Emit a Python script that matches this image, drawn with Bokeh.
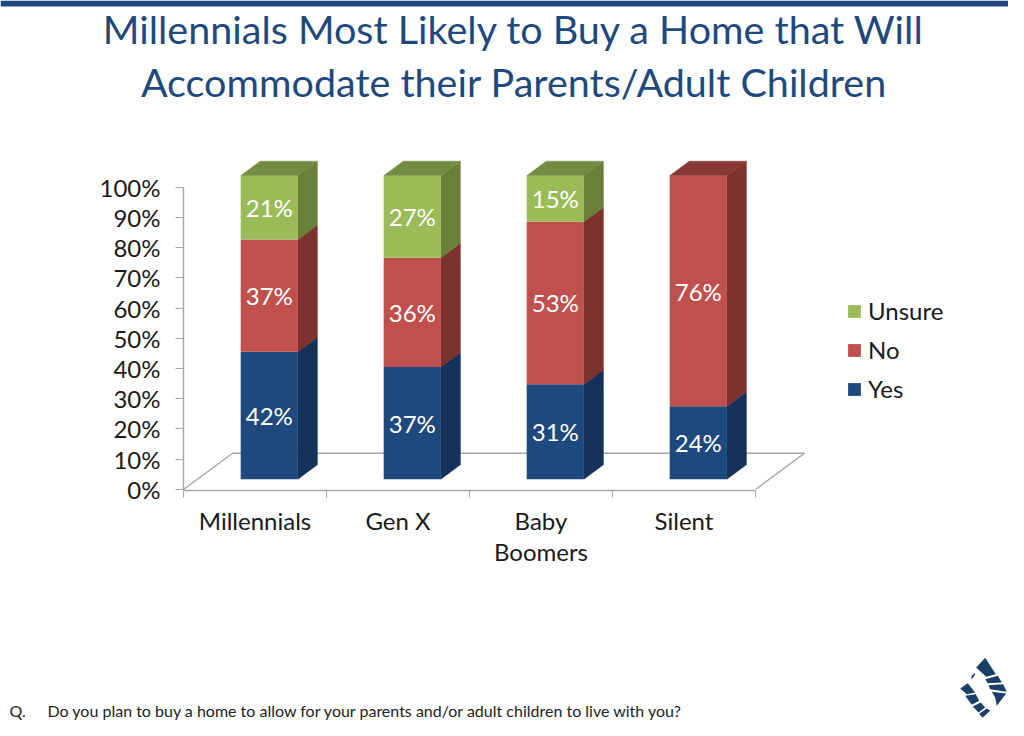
from bokeh.plotting import figure
from bokeh.models import Range1d, LinearAxis, FixedTicker, Legend, LegendItem
from bokeh.core.properties import value
from bokeh.embed import file_html
from bokeh.resources import INLINE

categories = ["Millennials", "Gen X", "Baby\nBoomers", "Silent"]
yes_values = [42, 37, 31, 24]
no_values = [37, 36, 53, 76]
unsure_values = [21, 27, 15, 0]
y_ticks = [0, 10, 20, 30, 40, 50, 60, 70, 80, 90, 100]
title_lines = ["Millennials Most Likely to Buy a Home that Will",
               "Accommodate their Parents/Adult Children"]
question = "Do you plan to buy a home to allow for your parents and/or adult children to live with you?"

FONT = "Lato"
NAVY = "#1F497D"
W, H = 1008, 720
X0, Y0 = 183.0, 488.7      # px of the category/percent origin
PX_X = 143.0               # px per category
PX_Y = 3.02                # px per percent

p = figure(width=W, height=H, output_backend="svg", toolbar_location=None,
           x_range=Range1d((0 - X0) / PX_X, (W - X0) / PX_X),
           y_range=Range1d((Y0 - H) / PX_Y, Y0 / PX_Y),
           min_border=0, x_axis_location=None, y_axis_location=None)
p.outline_line_color = None
p.background_fill_color = "white"
p.grid.visible = False
p.extra_x_ranges["px"] = Range1d(0, W)
p.extra_y_ranges["px"] = Range1d(H, 0)

# top band
p.quad(left=[0], right=[W], top=[0], bottom=[6], fill_color=NAVY, line_color=None,
       x_range_name="px", y_range_name="px")

# floor
p.line([183, 232, 804, 755], [489, 452.7, 452.7, 489], line_color="#A6A6A6", line_width=1.4,
       x_range_name="px", y_range_name="px")

# axes
xax = LinearAxis(fixed_location=-0.4, bounds=(0, 4),
                 ticker=FixedTicker(ticks=[i + 0.5 for i in range(len(categories))],
                                    minor_ticks=list(range(len(categories) + 1))),
                 major_label_overrides={i + 0.5: c for i, c in enumerate(categories)},
                 major_tick_line_color=None, minor_tick_line_color="#A6A6A6",
                 minor_tick_out=7, minor_tick_in=0, minor_tick_line_width=1,
                 axis_line_color="#A6A6A6", axis_line_width=1.6,
                 major_label_text_font=FONT, major_label_text_font_size="24px",
                 major_label_text_line_height=1.06,
                 major_label_text_color="#1a1a1a", major_label_standoff=9)
p.add_layout(xax, "below")
yax = LinearAxis(fixed_location=0, bounds=(0, 100),
                 ticker=FixedTicker(ticks=y_ticks, minor_ticks=[]),
                 major_label_overrides={t: f"{t}%" for t in y_ticks},
                 major_tick_line_color="#A6A6A6", major_tick_out=8, major_tick_in=0,
                 major_tick_line_width=1,
                 axis_line_color="#A6A6A6", axis_line_width=1.4,
                 major_label_text_font=FONT, major_label_text_font_size="24px",
                 major_label_text_color="#1a1a1a", major_label_standoff=15)
p.add_layout(yax, "left")

# stacked bars (normalised to 100 %), lifted and shifted by the 3-D depth
LIFT = 10.0 / PX_Y
DX, DY = 19.5 / PX_X, 14.5 / PX_Y
SCALE = 100.5 / 100
series = [("Yes", yes_values, "#1F497D", "#16325A", None),
          ("No", no_values, "#C0504D", "#7D3230", "#8A3836"),
          ("Unsure", unsure_values, "#9BBB59", "#6A8039", "#738C41")]
totals = [a + b + c for a, b, c in zip(yes_values, no_values, unsure_values)]
cum = [0.0] * len(categories)
renderers = {}
labels_x, labels_y, labels_t = [], [], []
for name, vals, col, side, top in series:
    left, right, bottom, upper = [], [], [], []
    sx, sy, tx, ty, tc = [], [], [], [], []
    for i, v in enumerate(vals):
        b = cum[i]
        t = b + v * 100 / totals[i]
        cum[i] = t
        if v == 0:
            continue
        l, r = i + 0.4, i + 0.8
        y0, y1 = b * SCALE + LIFT, t * SCALE + LIFT
        left.append(l); right.append(r); bottom.append(y0); upper.append(y1)
        sx.append([r, r + DX, r + DX, r]); sy.append([y0, y0 + DY, y1 + DY, y1])
        labels_x.append((l + r) / 2); labels_y.append((y0 + y1) / 2); labels_t.append(f"{v}%")
        if t >= 99.99:
            tx.append([l, l + DX, r + DX, r]); ty.append([y1, y1 + DY, y1 + DY, y1])
            tc.append(top or side)
    p.patches(sx, sy, fill_color=side, line_color=side, line_width=0.5)
    if tx:
        p.patches(tx, ty, fill_color=tc, line_color=tc, line_width=0.5)
    renderers[name] = p.quad(left=left, right=right, bottom=bottom, top=upper,
                             fill_color=col, line_color=None)

p.text(labels_x, labels_y, text=labels_t, text_color="white", text_font=value(FONT),
       text_font_size="24px", text_align="center", text_baseline="middle")

legend = Legend(items=[LegendItem(label=n, renderers=[renderers[n]]) for n in ["Unsure", "No", "Yes"]],
                location=(846, 317), orientation="vertical",
                glyph_width=16, glyph_height=16, label_height=20, label_standoff=6, spacing=10,
                padding=0, margin=0, border_line_color=None, background_fill_alpha=0,
                label_text_font=FONT, label_text_font_size="24px", label_text_color="#1a1a1a")
p.add_layout(legend, "center")

# title and footer
p.text([513.5, 513.5], [28, 81], text=title_lines, text_color=NAVY, text_font=value(FONT),
       text_font_size="39.5px", text_align="center", text_baseline="middle",
       x_range_name="px", y_range_name="px")
p.text([9, 47], [710, 710], text=["Q.", question], text_color="#222222", text_font=value(FONT),
       text_font_size="16px", text_align="left", text_baseline="middle",
       x_range_name="px", y_range_name="px")

# logo
blades = [[(113, 75), (140, 46), (172, 95), (143, 103)],
          [(140, 110), (178, 100), (190, 120), (148, 122)],
          [(150, 128), (194, 125), (205, 148), (155, 140)],
          [(160, 148), (203, 153), (175, 190), (170, 165)],
          [(65, 138), (88, 122), (110, 150), (85, 155)],
          [(80, 160), (112, 155), (122, 175), (100, 187)],
          [(103, 192), (127, 180), (140, 195), (120, 210)],
          [(122, 214), (145, 198), (155, 205), (132, 226)],
          [(100, 100), (110, 90), (108, 100), (98, 112)]]
p.patches([[938 + a / 3 for a, _ in b] for b in blades],
          [[642 + c / 3 for _, c in b] for b in blades],
          fill_color="#1B3F66", line_color=None, x_range_name="px", y_range_name="px")

open("out.html", "w").write(file_html(p, INLINE))
